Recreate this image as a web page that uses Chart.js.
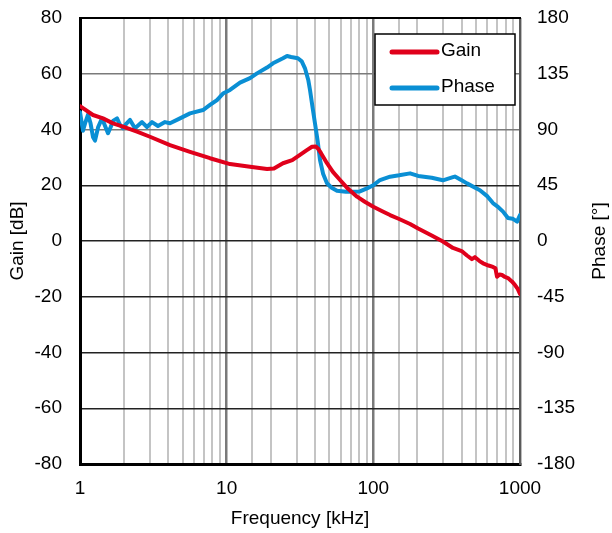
<!DOCTYPE html>
<html>
<head>
<meta charset="utf-8">
<script src="https://cdn.jsdelivr.net/npm/chart.js@4/dist/chart.umd.min.js"></script>
<style>
  html, body { margin: 0; padding: 0; background: #fff; }
  #wrap { width: 612px; height: 533px; }
</style>
</head>
<body>
<div id="wrap"><canvas id="bode" width="612" height="533"></canvas></div>
<script>
// Loop gain measurement: gain (dB) and phase (deg) versus frequency (kHz)
const gainFreq = [1.00, 1.226, 1.435, 1.679, 1.964, 2.447, 3.0, 4.107, 5.623, 7.697,
  10.54, 14.43, 18.84, 21.0, 24.2, 28.0, 31.6, 35.0, 38.2, 40.5, 41.9, 44.0, 48.3,
  53.0, 59.3, 67.0, 77.4, 88.0, 100, 115, 130, 150, 178, 202, 250, 298, 349, 400,
  435, 470, 493, 530, 560, 610, 654, 680, 697, 725, 754, 790, 828, 880, 925, 965, 1000];
const gainDb = [48.4, 45.2, 44.0, 42.2, 41.0, 39.2, 37.4, 34.4, 32.0, 29.7,
  27.6, 26.6, 25.8, 26.0, 27.9, 29.0, 30.9, 32.5, 33.8, 33.9, 33.2, 31.5, 27.9,
  24.8, 21.9, 18.8, 15.9, 14.0, 12.3, 10.7, 9.3, 7.9, 6.1, 4.5, 2.0, -0.2, -2.5, -3.6,
  -5.2, -6.5, -5.8, -7.2, -8.0, -8.8, -9.3, -9.8, -12.8, -12.0, -12.2, -12.9, -13.3, -14.5, -15.8, -17.2, -19.0];

const phaseFreq = [1.00, 1.048, 1.09, 1.134, 1.18, 1.226, 1.266, 1.33, 1.413, 1.48,
  1.552, 1.62, 1.679, 1.788, 1.87, 1.964, 2.08, 2.193, 2.371, 2.647, 2.862, 3.097,
  3.402, 3.797, 4.107, 4.806, 5.623, 6.897, 7.697, 8.59, 9.44, 10.54, 12.33, 14.43,
  16.1, 18.84, 20.7, 24.2, 25.8, 27.5, 30.6, 32.5, 34.2, 36.0, 37.0, 38.5, 40.0,
  41.8, 43.3, 45.5, 48.3, 52.0, 56.5, 65.0, 72.7, 81.0, 90.5, 100, 111, 130, 150,
  178, 202, 250, 298, 349, 360, 400, 435, 533, 600, 654, 700, 766, 828, 890, 955, 1000];
const phaseDeg = [104, 89, 96, 102, 95, 84, 81, 92, 99, 93,
  87, 92, 97, 99, 94, 91, 95, 97.7, 91, 96, 92, 96,
  92.8, 96, 95, 99, 103, 105.7, 109.8, 113.8, 119, 121.9, 127.8, 131.5,
  135.3, 140, 143.4, 147.5, 149.3, 148.5, 147.5, 145, 139.4, 130, 121.9, 108, 95,
  80, 65.4, 54, 46.6, 43, 40.6, 39.8, 39.8, 40, 42.5, 45, 49.2, 51.9, 53,
  54.6, 52.5, 51, 49, 51.5, 52, 49, 46.5, 41, 36, 30.6, 28, 23.7, 18.5, 18, 15.6, 21];

const gainTicks = [-80, -60, -40, -20, 0, 20, 40, 60, 80];
const phaseTicks = [-180, -135, -90, -45, 0, 45, 90, 135, 180];
const freqLabels = [1, 10, 100, 1000];

const FONT = "'Liberation Sans', Arial, sans-serif";
const RED = '#e0001b';
const BLUE = '#0a8fd4';

const isDecade = v => Math.abs(Math.log10(v) - Math.round(Math.log10(v))) < 1e-6;

// Fixed axis box sizes; end-label overhang is not reserved
const fixWidth = w => s => { s.width = w; s.paddingTop = 0; s.paddingBottom = 0; };

// Boxed legend in the upper right of the plot area
const boxLegend = {
  id: 'boxLegend',
  afterDraw(chart) {
    const {ctx, chartArea} = chart;
    const w = 140, h = 71;
    const x = chartArea.right - 5 - w, y = chartArea.top + 16;
    ctx.save();
    ctx.fillStyle = '#fff';
    ctx.fillRect(x, y, w, h);
    ctx.strokeStyle = '#000';
    ctx.lineWidth = 1.5;
    ctx.strokeRect(x, y, w, h);
    ctx.font = '19px ' + FONT;
    ctx.textBaseline = 'middle';
    ctx.fillStyle = '#000';
    chart.data.datasets.forEach((ds, i) => {
      const ly = y + 18 + i * 36;
      ctx.beginPath();
      ctx.lineCap = 'round';
      ctx.lineWidth = 5;
      ctx.strokeStyle = ds.borderColor;
      ctx.moveTo(x + 17, ly);
      ctx.lineTo(x + 62, ly);
      ctx.stroke();
      ctx.fillText(ds.label, x + 66, ly - 1);
    });
    ctx.restore();
  }
};

// Top frame edge of the plot area and the right-hand axis title (reading upward)
const frameAndTitle = {
  id: 'frameAndTitle',
  afterDatasetsDraw(chart) {
    const {ctx, chartArea} = chart;
    ctx.save();
    ctx.strokeStyle = '#000';
    ctx.lineWidth = 2;
    ctx.beginPath();
    ctx.moveTo(chartArea.left - 1, chartArea.top);
    ctx.lineTo(chartArea.right + 1, chartArea.top);
    ctx.stroke();
    ctx.restore();
  },
  afterDraw(chart) {
    const {ctx, chartArea} = chart;
    ctx.save();
    ctx.translate(chart.width - 12, (chartArea.top + chartArea.bottom) / 2);
    ctx.rotate(-Math.PI / 2);
    ctx.font = '19px ' + FONT;
    ctx.fillStyle = '#000';
    ctx.textAlign = 'center';
    ctx.textBaseline = 'middle';
    ctx.fillText('Phase [°]', 0, 0);
    ctx.restore();
  }
};

new Chart(document.getElementById('bode'), {
  type: 'line',
  data: {
    datasets: [
      {
        label: 'Gain',
        data: gainFreq.map((f, i) => ({x: f, y: gainDb[i]})),
        yAxisID: 'y',
        borderColor: RED,
        borderWidth: 4,
        pointRadius: 0,
        tension: 0,
        borderJoinStyle: 'round',
        borderCapStyle: 'round'
      },
      {
        label: 'Phase',
        data: phaseFreq.map((f, i) => ({x: f, y: phaseDeg[i]})),
        yAxisID: 'y2',
        borderColor: BLUE,
        borderWidth: 4,
        pointRadius: 0,
        tension: 0,
        borderJoinStyle: 'round',
        borderCapStyle: 'round'
      }
    ]
  },
  options: {
    responsive: false,
    animation: false,
    events: [],
    layout: { padding: { top: 18, left: 0, right: 0, bottom: 0 } },
    plugins: { legend: { display: false }, tooltip: { enabled: false } },
    scales: {
      x: {
        type: 'logarithmic',
        position: 'bottom',
        min: 1,
        max: 1000,
        afterFit(s) { s.height = 69; },
        border: { color: '#000', width: 3 },
        grid: {
          drawTicks: false,
          color: c => isDecade(c.tick.value) ? '#7a7a7a' : '#c4c4c4',
          lineWidth: c => isDecade(c.tick.value) ? 2.5 : 2
        },
        ticks: {
          autoSkip: false,
          maxRotation: 0,
          padding: 13,
          color: '#000',
          font: { family: FONT, size: 19 },
          callback: v => freqLabels.includes(v) ? String(v) : ''
        },
        title: {
          display: true,
          text: 'Frequency [kHz]',
          color: '#000',
          font: { family: FONT, size: 19 },
          padding: { top: 0, bottom: 2.5 }
        }
      },
      y: {
        position: 'left',
        min: -80,
        max: 80,
        afterFit: fixWidth(80),
        afterBuildTicks(s) { s.ticks = gainTicks.map(v => ({value: v})); },
        border: { color: '#000', width: 3 },
        grid: {
          drawTicks: false,
          color: c => c.tick.value > 20 ? '#7a7a7a' : '#222',
          lineWidth: 1.5
        },
        ticks: {
          padding: 18,
          color: '#000',
          font: { family: FONT, size: 19 }
        },
        title: {
          display: true,
          text: 'Gain [dB]',
          color: '#000',
          font: { family: FONT, size: 19 },
          padding: { top: 6, bottom: 0 }
        }
      },
      y2: {
        position: 'right',
        min: -180,
        max: 180,
        afterFit: fixWidth(92),
        afterBuildTicks(s) { s.ticks = phaseTicks.map(v => ({value: v})); },
        border: { color: '#5a5a5a', width: 2 },
        grid: { display: false, drawTicks: false },
        ticks: {
          padding: 17,
          color: '#000',
          font: { family: FONT, size: 19 }
        },
        title: { display: false }
      }
    }
  },
  plugins: [frameAndTitle, boxLegend]
});
</script>
</body>
</html>
